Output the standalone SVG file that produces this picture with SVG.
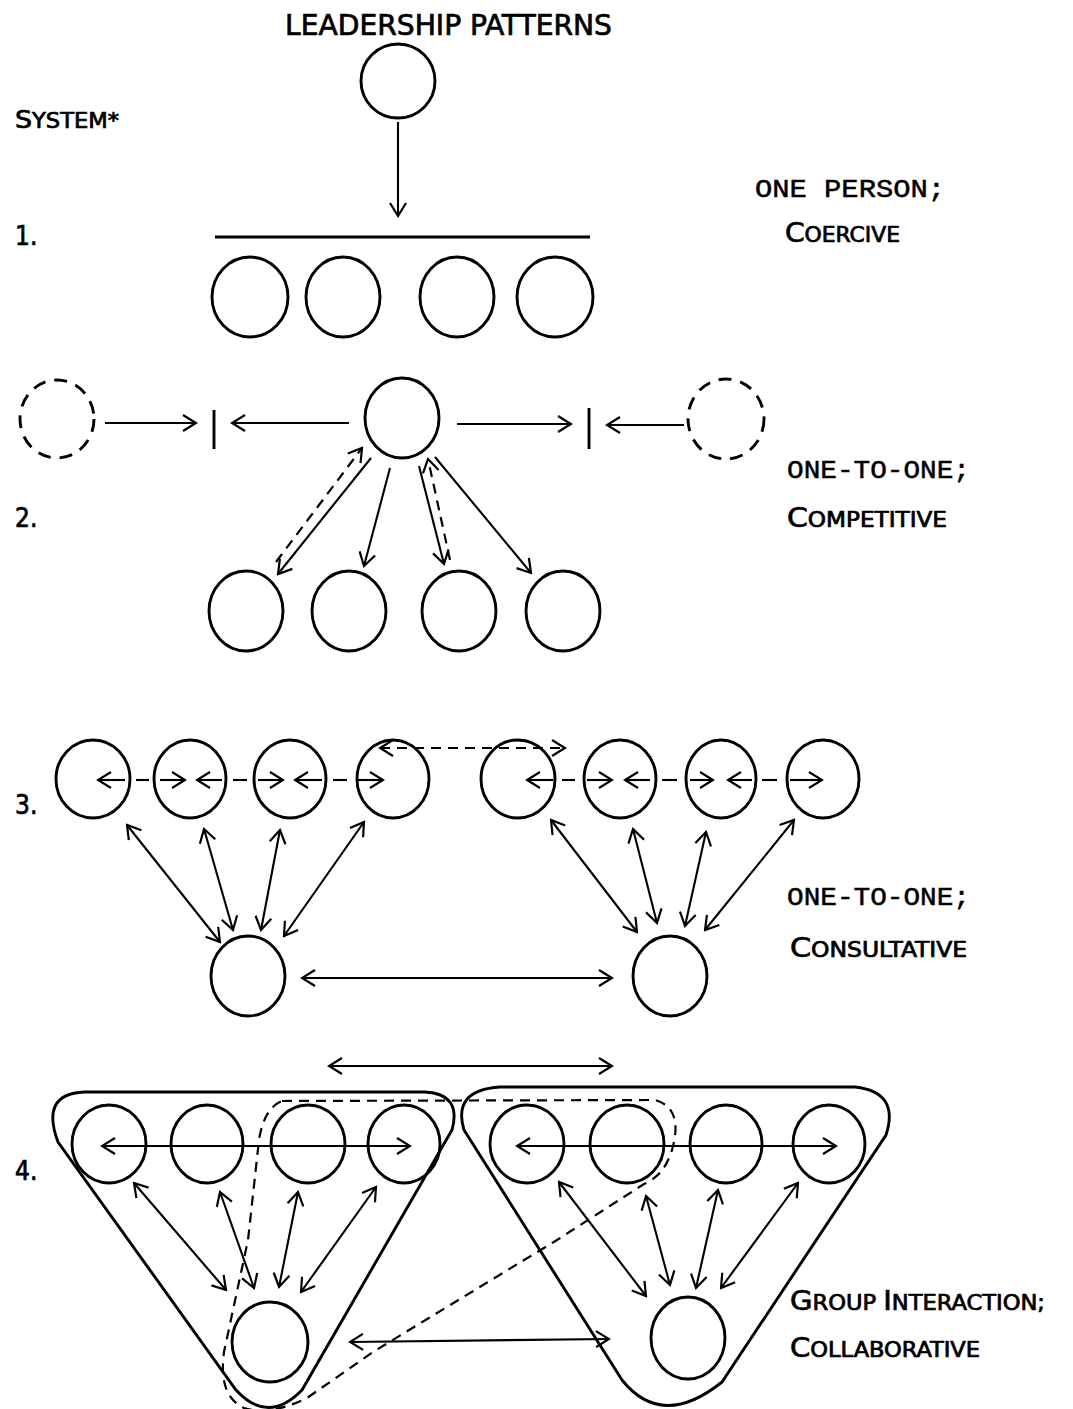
<svg xmlns="http://www.w3.org/2000/svg" width="1073" height="1409" viewBox="0 0 1073 1409">
<defs>
<marker id="a" viewBox="-16 -10 18 20" refX="0" refY="0" markerWidth="18" markerHeight="20" markerUnits="userSpaceOnUse" orient="auto-start-reverse"><path d="M-13,-8 L0,0 L-13,8" fill="none" stroke="#000" stroke-width="2.2"/></marker>
</defs>
<style>
.n{fill:none;stroke:#000;stroke-width:2.9}
.d{fill:none;stroke:#000;stroke-width:2.9;stroke-dasharray:13 9}
.c{fill:none;stroke:#000;stroke-width:2.1}
.cd{fill:none;stroke:#000;stroke-width:2.2;stroke-dasharray:10 7}
.e{marker-end:url(#a)}
.b{marker-start:url(#a);marker-end:url(#a)}
.h{font-family:"Liberation Sans Narrow","DejaVu Sans Condensed","Liberation Sans",sans-serif;fill:#000;stroke:#000;stroke-width:0.7}
.t{font-family:"Liberation Mono","Courier New","DejaVu Sans Mono",monospace;fill:#000;font-size:25px;stroke:#000;stroke-width:0.5}
</style>
<rect width="1073" height="1409" fill="#fff"/>

<g id="labels">
<text class="h" x="285" y="35" font-size="29" textLength="327" lengthAdjust="spacingAndGlyphs">LEADERSHIP  PATTERNS</text>
<text class="h" x="15" y="128" font-size="21" textLength="104" lengthAdjust="spacingAndGlyphs"><tspan font-size="25">S</tspan>YSTEM*</text>
<text class="h" x="15" y="245" font-size="26">1.</text>
<text class="h" x="15" y="527" font-size="26">2.</text>
<text class="h" x="15" y="814" font-size="26">3.</text>
<text class="h" x="15" y="1180" font-size="26">4.</text>
<text class="t" x="755" y="197" textLength="190" lengthAdjust="spacingAndGlyphs">ONE PERSON;</text>
<text class="h" x="785" y="242" font-size="21" textLength="115" lengthAdjust="spacingAndGlyphs"><tspan font-size="27">C</tspan>OERCIVE</text>
<text class="t" x="787" y="478" textLength="183" lengthAdjust="spacingAndGlyphs">ONE-TO-ONE;</text>
<text class="h" x="787" y="527" font-size="21" textLength="160" lengthAdjust="spacingAndGlyphs"><tspan font-size="27">C</tspan>OMPETITIVE</text>
<text class="t" x="787" y="905" textLength="183" lengthAdjust="spacingAndGlyphs">ONE-TO-ONE;</text>
<text class="h" x="790" y="957" font-size="21" textLength="177" lengthAdjust="spacingAndGlyphs"><tspan font-size="27">C</tspan>ONSULTATIVE</text>
<text class="h" x="790" y="1310" font-size="21" textLength="255" lengthAdjust="spacingAndGlyphs"><tspan font-size="27">G</tspan>ROUP  <tspan font-size="27">I</tspan>NTERACTION;</text>
<text class="h" x="790" y="1357" font-size="21" textLength="190" lengthAdjust="spacingAndGlyphs"><tspan font-size="27">C</tspan>OLLABORATIVE</text>
</g>

<!-- System 1 -->
<g id="s1-top"><ellipse class="n" cx="398" cy="81" rx="37" ry="37"/></g>
<g id="s1-a"><ellipse class="n" cx="250" cy="297" rx="38" ry="40"/></g>
<g id="s1-b"><ellipse class="n" cx="343" cy="297" rx="37" ry="40"/></g>
<g id="s1-c"><ellipse class="n" cx="457" cy="297" rx="37" ry="40"/></g>
<g id="s1-d"><ellipse class="n" cx="555" cy="297" rx="38" ry="40"/></g>

<!-- System 2 -->
<g id="s2-left"><ellipse class="d" cx="57" cy="419" rx="37" ry="39"/></g>
<g id="s2-center"><ellipse class="n" cx="402" cy="418" rx="37" ry="40"/></g>
<g id="s2-right"><ellipse class="d" cx="726" cy="419" rx="38" ry="40"/></g>
<g id="s2-a"><ellipse class="n" cx="246" cy="611" rx="37" ry="40"/></g>
<g id="s2-b"><ellipse class="n" cx="349" cy="611" rx="37" ry="40"/></g>
<g id="s2-c"><ellipse class="n" cx="459" cy="611" rx="37" ry="40"/></g>
<g id="s2-d"><ellipse class="n" cx="563" cy="611" rx="37" ry="40"/></g>

<!-- System 3 -->
<g id="s3-l1"><ellipse class="n" cx="93" cy="779" rx="37" ry="39"/></g>
<g id="s3-l2"><ellipse class="n" cx="190" cy="779" rx="36" ry="39"/></g>
<g id="s3-l3"><ellipse class="n" cx="290" cy="779" rx="36" ry="39"/></g>
<g id="s3-l4"><ellipse class="n" cx="393" cy="779" rx="36" ry="39"/></g>
<g id="s3-r1"><ellipse class="n" cx="518" cy="779" rx="37" ry="39"/></g>
<g id="s3-r2"><ellipse class="n" cx="620" cy="779" rx="36" ry="39"/></g>
<g id="s3-r3"><ellipse class="n" cx="721" cy="779" rx="35" ry="39"/></g>
<g id="s3-r4"><ellipse class="n" cx="823" cy="779" rx="36" ry="39"/></g>
<g id="s3-lb"><ellipse class="n" cx="248" cy="976" rx="37" ry="40"/></g>
<g id="s3-rb"><ellipse class="n" cx="670" cy="976" rx="37" ry="40"/></g>

<!-- System 4 -->
<g id="s4-left-group"><path class="n" d="M84,1092 L425,1092 Q462,1094 452,1130 L302,1390 Q268,1425 236,1390 L58,1142 Q40,1094 84,1092 Z"/></g>
<g id="s4-right-group"><path class="n" d="M500,1087 L855,1087 Q900,1092 886,1135 L722,1382 Q662,1430 622,1380 L464,1130 Q452,1090 500,1087 Z"/></g>
<g id="s4-crossgroup"><path class="cd" d="M282,1101 L655,1100 Q684,1108 672,1150 Q664,1176 644,1184 L557,1240 L373,1352 L307,1398 Q270,1416 244,1408 Q218,1396 224,1352 L248,1240 L259,1140 Q264,1108 282,1101 Z" stroke-width="2.4"/></g>
<g id="s4-l1"><ellipse class="n" cx="109" cy="1144" rx="37" ry="39"/></g>
<g id="s4-l2"><ellipse class="n" cx="207" cy="1144" rx="36" ry="39"/></g>
<g id="s4-l3"><ellipse class="n" cx="308" cy="1144" rx="37" ry="39"/></g>
<g id="s4-l4"><ellipse class="n" cx="404" cy="1144" rx="36" ry="39"/></g>
<g id="s4-r1"><ellipse class="n" cx="527" cy="1144" rx="37" ry="39"/></g>
<g id="s4-r2"><ellipse class="n" cx="627" cy="1144" rx="37" ry="39"/></g>
<g id="s4-r3"><ellipse class="n" cx="726" cy="1144" rx="36" ry="39"/></g>
<g id="s4-r4"><ellipse class="n" cx="829" cy="1144" rx="36" ry="39"/></g>
<g id="s4-lb"><ellipse class="n" cx="270" cy="1342" rx="38" ry="40"/></g>
<g id="s4-rb"><ellipse class="n" cx="688" cy="1338" rx="37" ry="41"/></g>

<g id="connectors">
<!-- System 1 -->
<line class="c e" x1="398" y1="122" x2="398" y2="216"/>
<line class="n" x1="215" y1="237" x2="590" y2="237"/>
<!-- System 2 -->
<line class="c e" x1="105" y1="423" x2="196" y2="423" stroke-width="2.7"/>
<line class="n" x1="214" y1="410" x2="214" y2="449"/>
<line class="c e" x1="349" y1="423" x2="232" y2="423" stroke-width="2.7"/>
<line class="c e" x1="457" y1="424" x2="571" y2="424" stroke-width="2.7"/>
<line class="n" x1="589" y1="408" x2="589" y2="449"/>
<line class="c e" x1="684" y1="425" x2="607" y2="425" stroke-width="2.7"/>
<line class="c e" x1="371" y1="458" x2="278" y2="574"/>
<line class="cd e" x1="276" y1="562" x2="362" y2="448"/>
<line class="c e" x1="390" y1="468" x2="364" y2="566"/>
<line class="c e" x1="419" y1="466" x2="444" y2="564"/>
<line class="cd e" x1="450" y1="560" x2="428" y2="459"/>
<line class="c e" x1="435" y1="457" x2="531" y2="573"/>
<!-- System 3 -->
<line class="cd b" x1="380" y1="748" x2="565" y2="748"/>
<line class="c e" x1="125" y1="780" x2="98" y2="780"/>
<line class="c" x1="136" y1="780" x2="149" y2="780"/>
<line class="c e" x1="160" y1="780" x2="185" y2="780"/>
<line class="c e" x1="222" y1="780" x2="197" y2="780"/>
<line class="c" x1="233" y1="780" x2="247" y2="780"/>
<line class="c e" x1="258" y1="780" x2="283" y2="780"/>
<line class="c e" x1="322" y1="780" x2="295" y2="780"/>
<line class="c" x1="333" y1="780" x2="347" y2="780"/>
<line class="c e" x1="357" y1="780" x2="383" y2="780"/>
<line class="c e" x1="553" y1="780" x2="527" y2="780"/>
<line class="c" x1="562" y1="780" x2="575" y2="780"/>
<line class="c e" x1="587" y1="780" x2="612" y2="780"/>
<line class="c e" x1="650" y1="780" x2="625" y2="780"/>
<line class="c" x1="662" y1="780" x2="677" y2="780"/>
<line class="c e" x1="690" y1="780" x2="713" y2="780"/>
<line class="c e" x1="752" y1="780" x2="728" y2="780"/>
<line class="c" x1="762" y1="780" x2="777" y2="780"/>
<line class="c e" x1="790" y1="780" x2="822" y2="780"/>
<line class="c b" x1="127" y1="825" x2="220" y2="942"/>
<line class="c b" x1="204" y1="829" x2="233" y2="930"/>
<line class="c b" x1="280" y1="830" x2="261" y2="930"/>
<line class="c b" x1="364" y1="822" x2="284" y2="936"/>
<line class="c b" x1="551" y1="820" x2="637" y2="932"/>
<line class="c b" x1="633" y1="829" x2="657" y2="923"/>
<line class="c b" x1="706" y1="832" x2="685" y2="926"/>
<line class="c b" x1="794" y1="820" x2="705" y2="930"/>
<line class="c b" x1="302" y1="978" x2="612" y2="978" stroke-width="2.6"/>
<!-- System 4 -->
<line class="c b" x1="329" y1="1066" x2="612" y2="1066" stroke-width="2.6"/>
<line class="c b" x1="102" y1="1146" x2="410" y2="1146" stroke-width="2.6"/>
<line class="c b" x1="517" y1="1146" x2="836" y2="1146" stroke-width="2.6"/>
<line class="c b" x1="134" y1="1183" x2="226" y2="1290"/>
<line class="c b" x1="220" y1="1192" x2="254" y2="1288"/>
<line class="c b" x1="298" y1="1192" x2="279" y2="1287"/>
<line class="c b" x1="376" y1="1187" x2="301" y2="1292"/>
<line class="c b" x1="559" y1="1182" x2="646" y2="1296"/>
<line class="c b" x1="646" y1="1196" x2="670" y2="1285"/>
<line class="c b" x1="718" y1="1190" x2="696" y2="1288"/>
<line class="c b" x1="798" y1="1183" x2="721" y2="1288"/>
<line class="c b" x1="350" y1="1342" x2="609" y2="1339" stroke-width="2.6"/>
</g>
</svg>
